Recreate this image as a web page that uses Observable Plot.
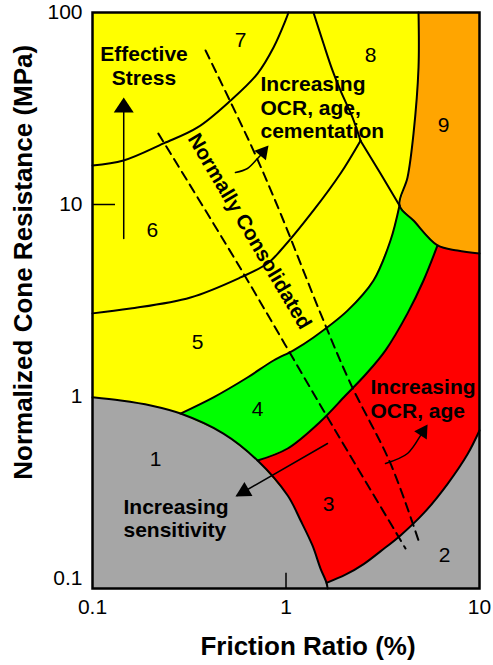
<!DOCTYPE html>
<html>
<head>
<meta charset="utf-8">
<script src="https://cdn.jsdelivr.net/npm/d3@7"></script>
<script src="https://cdn.jsdelivr.net/npm/@observablehq/plot@0.6"></script>
<style>
  html, body { margin: 0; padding: 0; background: #ffffff; }
  #chart svg { font-family: "Liberation Sans", Arial, sans-serif; display: block; }
</style>
</head>
<body>
<div id="chart"></div>
<script>
// ---- Axis ticks ----
const xTickValues = [0.1, 1, 10];
const yTickValues = [1, 10, 100];
const yBottomTick = [0.1];

// ---- Zone boundaries: [Friction ratio %, Normalized cone resistance MPa] ----
const gray1Boundary = [[0.1,0.99],[0.14,0.953],[0.2,0.898],[0.285,0.815],[0.475,0.641],[0.713,0.464],[1.02,0.305],[1.19,0.226],[1.37,0.1675],[1.508,0.127],[1.62,0.107],[1.64,0.1]];
const gray2Boundary = [[1.62,0.107],[2.03,0.118],[2.52,0.134],[3.1,0.157],[3.906,0.189],[5.136,0.246],[6.83,0.35],[8.67,0.5],[10,0.665]];
const redGreenBoundary = [[0.713,0.464],[1.02,0.536],[1.508,0.741],[2.03,1.012],[2.606,1.318],[3.268,1.74],[4.246,2.71],[5.136,4.02],[6.067,6.12]];
const greenYellowBoundary = [[0.285,0.815],[0.422,0.99],[0.632,1.256],[0.862,1.54],[1.093,1.74],[1.387,2.03],[2.079,2.8],[2.833,4.02],[3.467,6.49],[3.86,9.88]];
const orangeBoundary = [[4.84,100],[4.84,51.7],[4.56,23.4],[4.246,13.82],[3.86,9.88],[4.56,8.25],[6.067,6.12],[7.7,5.76],[10,5.56]];
const line56 = [[0.1,2.71],[0.157,2.87],[0.321,3.28],[0.582,4.17],[0.802,4.93],[0.937,5.76],[1.387,9.31],[1.913,14.5],[2.427,21.5]];
const line67 = [[0.1,15.96],[0.1446,16.95],[0.233,20.8],[0.349,25.2],[0.517,34.8],[0.713,48.1],[0.862,65.7],[0.994,90.9],[1.03,100]];
const line78 = [[1.387,100],[1.562,68.9],[1.739,49.9],[1.913,39.2],[2.206,28.4],[2.427,21.5]];
const line8low = [[2.427,21.5],[3.079,14.5],[3.86,9.88]];
const ncLeft = [[0.219,23.4],[0.562,4.93],[1.562,0.846],[4.146,0.1616]];
const ncRight = [[0.384,63.4],[0.679,19.1],[0.937,8.98],[1.508,2.71],[2.154,1.169],[3.467,0.448],[4.84,0.178]];
const frameCorners = [[0.1,0.1],[10,0.1],[10,100],[0.1,100]];

// ---- Zone numbers ----
const zoneNames = ["1","2","3","4","5","6","7","8","9"];
const zoneRf = [0.212, 6.6, 1.658, 0.713, 0.349, 0.204, 0.582, 2.733, 6.52];
const zoneQt = [0.47, 0.149, 0.274, 0.856, 1.91, 7.32, 71.5, 59.7, 25.8];

// ---- Annotations ----
const centeredNotes = ["Effective\nStress"];
const centeredRf = [0.1845];
const centeredQt = [52.9];
const leftNotes = ["Increasing\nOCR, age,\ncementation", "Increasing\nOCR, age", "Increasing\nsensitivity"];
const leftRf = [0.738, 2.733, 0.1446];
const leftQt = [32.2, 0.976, 0.233];
const bandLabel = ["Normally Consolidated"];

// ---- Arrows ----
const straightArrows = [
  {x1: 0.145, y1: 6.65, x2: 0.145, y2: 33},
  {x1: 1.639, y1: 0.569, x2: 0.56, y2: 0.305}
];
const curvedArrowCementation = [[0.548,14.68],[0.632,15.4],[0.713,17.36],[0.76,18.6]];
const curvedArrowOCR = [[3.268,0.448],[4.246,0.505],[4.955,0.626],[5.15,0.67]];
const arrowHeadRf = [0.145, 0.548, 0.812, 5.39];
const arrowHeadQt = [36.1, 0.3014, 20.29, 0.715];
const arrowHeadAngle = [0, -120, 40, 33];

// ---- Build tables ----
const pts = (arr) => arr.map(([x, y]) => ({x, y}));
const greenPoly = [...greenYellowBoundary, [4.56,8.25], ...redGreenBoundary.slice().reverse(), [0.475,0.641]];
const redPoly = [...redGreenBoundary, [7.7,5.76], [10,5.56], ...gray2Boundary.slice().reverse(), [1.508,0.127], [1.37,0.1675], [1.19,0.226], [1.02,0.305]];
const gray1Poly = [...gray1Boundary, [0.1,0.1]];
const gray2Poly = [...gray2Boundary, [10,0.1], [1.64,0.1]];
const orangePoly = [...orangeBoundary, [10,100]];

const zones = zoneNames.map((t, i) => ({t, x: zoneRf[i], y: zoneQt[i]}));
const cNotes = centeredNotes.map((t, i) => ({t, x: centeredRf[i], y: centeredQt[i]}));
const lNotes = leftNotes.map((t, i) => ({t, x: leftRf[i], y: leftQt[i]}));
const heads = arrowHeadRf.map((x, i) => ({x, y: arrowHeadQt[i], a: arrowHeadAngle[i]}));
const headSizes = [[15, 10], [15, 8], [13, 7.5], [13, 7.5]];

const fillMark = (arr, color) => Plot.line(pts(arr), {x: "x", y: "y", fill: color, stroke: "none", curve: "linear"});
const edge = (arr, extra = {}) => Plot.line(pts(arr), {x: "x", y: "y", stroke: "black", strokeWidth: 2, curve: "catmull-rom", ...extra});
const headShape = (l, r) => ({draw(context) { context.moveTo(-r, 0); context.lineTo(0, -l); context.lineTo(r, 0); context.closePath(); }});

const bold = {fontWeight: "bold", fontSize: 21, fill: "black", lineHeight: 1.12};

const chart = Plot.plot({
  width: 493,
  height: 665,
  marginLeft: 92,
  marginRight: 14,
  marginTop: 12,
  marginBottom: 77,
  style: {background: "#ffffff", fontFamily: "Liberation Sans, Arial, sans-serif", overflow: "visible"},
  x: {type: "log", domain: [0.1, 10], axis: null},
  y: {type: "log", domain: [0.1, 100], axis: null},
  marks: [
    fillMark(frameCorners, "#ffff00"),
    fillMark(greenPoly, "#00ff00"),
    fillMark(redPoly, "#ff0000"),
    fillMark(gray1Poly, "#a6a6a6"),
    fillMark(gray2Poly, "#a6a6a6"),
    fillMark(orangePoly, "#ffa500"),
    edge(gray1Boundary),
    edge(gray2Boundary),
    edge(redGreenBoundary),
    edge(greenYellowBoundary),
    edge(orangeBoundary),
    edge(line56),
    edge(line67),
    edge(line78),
    edge(line8low, {curve: "linear"}),
    edge(ncLeft, {strokeDasharray: "9,6"}),
    edge(ncRight, {strokeDasharray: "9,6"}),
    Plot.ruleY([10], {x1: 0.1, x2: 0.1315, stroke: "black", strokeWidth: 1.5}),
    Plot.ruleX([1], {y1: 0.1, y2: 0.12, stroke: "black", strokeWidth: 1.5}),
    Plot.frame({stroke: "black", strokeWidth: 2.5}),
    // tick labels
    Plot.text(xTickValues, {x: d => d, text: d => String(d), frameAnchor: "bottom", lineAnchor: "middle", textAnchor: "middle", dy: 18.5, fontSize: 21, fill: "black"}),
    Plot.text(yTickValues, {y: d => d, text: d => String(d), frameAnchor: "left", lineAnchor: "middle", dx: -10, textAnchor: "end", fontSize: 21, fill: "black"}),
    Plot.text(yBottomTick, {y: d => d, text: d => String(d), frameAnchor: "left", lineAnchor: "middle", dx: -10, dy: -10, textAnchor: "end", fontSize: 21, fill: "black"}),
    // axis titles
    Plot.text(["Friction Ratio (%)"], {x: () => 1.30, text: d => d, frameAnchor: "bottom", lineAnchor: "middle", textAnchor: "middle", dy: 58.5, fontSize: 26, fontWeight: "bold", fill: "black"}),
    Plot.text(["Normalized Cone Resistance (MPa)"], {y: () => 5.0, text: d => d, frameAnchor: "left", lineAnchor: "middle", textAnchor: "middle", dx: -69, rotate: -90, fontSize: 26, fontWeight: "bold", fill: "black"}),
    // zone numbers
    Plot.text(zones, {x: "x", y: "y", text: "t", fontSize: 21, fill: "black"}),
    // arrows
    Plot.arrow(straightArrows, {x1: "x1", y1: "y1", x2: "x2", y2: "y2", headLength: 0, stroke: "black", strokeWidth: 1.5}),
    Plot.line(pts(curvedArrowCementation), {x: "x", y: "y", curve: "catmull-rom", stroke: "black", strokeWidth: 1.5}),
    Plot.line(pts(curvedArrowOCR), {x: "x", y: "y", curve: "catmull-rom", stroke: "black", strokeWidth: 1.5}),
    ...heads.map((h, i) => Plot.vector([h], {x: "x", y: "y", rotate: "a", length: headSizes[i][0], anchor: "end", shape: headShape(headSizes[i][0], headSizes[i][1]), fill: "black", stroke: "none"})),
    // annotations
    Plot.text(cNotes, {x: "x", y: "y", text: "t", textAnchor: "middle", ...bold}),
    Plot.text(lNotes, {x: "x", y: "y", text: "t", textAnchor: "start", ...bold}),
    Plot.text(bandLabel, {x: () => 0.648, y: () => 7.25, text: d => d, rotate: 59.5, fontSize: 20.5, fontWeight: "bold", fill: "black"})
  ]
});
document.getElementById("chart").appendChild(chart);
</script>
</body>
</html>
